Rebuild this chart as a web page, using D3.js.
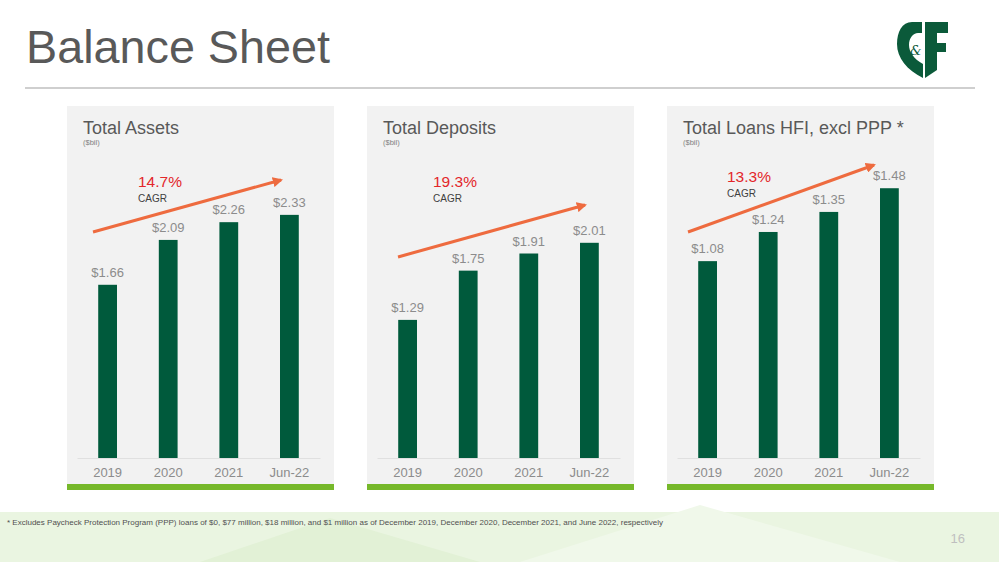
<!DOCTYPE html>
<html>
<head>
<meta charset="utf-8">
<script src="https://cdn.jsdelivr.net/npm/d3@7"></script>
<style>
  body { margin: 0; background: #fff; }
  svg { display: block; font-family: "Liberation Sans", Arial, sans-serif; }
</style>
</head>
<body>
<script>
// Data
const categories = ["2019", "2020", "2021", "Jun-22"];
const assetValues = [1.66, 2.09, 2.26, 2.33];
const depositValues = [1.29, 1.75, 1.91, 2.01];
const loanValues = [1.08, 1.24, 1.35, 1.48];
const panelTitles = ["Total Assets", "Total Deposits", "Total Loans HFI, excl PPP *"];
const cagrLabels = ["14.7%", "19.3%", "13.3%"];
const footnote = "* Excludes Paycheck Protection Program (PPP) loans of $0, $77 million, $18 million, and $1 million as of December 2019, December 2020, December 2021, and June 2022, respectively";

// Create SVG
const width = 999, height = 562;
const svg = d3.select('body')
    .append('svg')
    .attr('width', width)
    .attr('height', height);

// Footer band
svg.append("rect")
    .attr("x", 0).attr("y", 512)
    .attr("width", width).attr("height", 50)
    .attr("fill", "#eaf5e1");
svg.append("path")
    .attr("d", "M200,562 L330,518 L480,562 Z")
    .attr("fill", "#e2f1d6");
svg.append("path")
    .attr("d", "M520,562 L700,505 L900,562 Z")
    .attr("fill", "#f0f8ea");

// Title + rule
svg.append("text")
    .attr("x", 26).attr("y", 63)
    .attr("font-size", 46)
    .attr("textLength", 304)
    .attr("lengthAdjust", "spacingAndGlyphs")
    .attr("fill", "#595959")
    .text("Balance Sheet");
svg.append("line")
    .attr("x1", 25).attr("x2", 975)
    .attr("y1", 88).attr("y2", 88)
    .attr("stroke", "#bfbfbf")
    .attr("stroke-width", 1.5);

// Logo (C&F shield)
const logo = svg.append("g").attr("fill", "#0b5a3a");
logo.append("path")
    .attr("d", "M922,22 L912,22 C902,22 897,32 897,44 C897,58 907,70 923,78 L923,64 C914,59 909,52 909,45 C909,38 913,33 918,33 L922,33 Z");
logo.append("path")
    .attr("d", "M925,22 L948,22 L948,33 L937,33 L937,43 L946,43 L946,52 L937,52 L937,70 L925,78 Z");
logo.append("text")
    .attr("x", 910).attr("y", 55)
    .attr("font-size", 13)
    .attr("font-family", "DejaVu Serif, serif")
    .attr("font-style", "italic")
    .text("&");

// Panels
const panels = [
    { x: 67, values: assetValues, yMax: 2.76 },
    { x: 367, values: depositValues, yMax: 2.69 },
    { x: 667, values: loanValues, yMax: 1.58 }
];
const cagrArrows = [
    { x1: 93, y1: 232, x2: 281, y2: 180, tx: 138, ty: 187 },
    { x1: 398, y1: 257, x2: 585, y2: 205, tx: 433, ty: 187 },
    { x1: 688, y1: 232, x2: 874, y2: 165, tx: 727, ty: 182 }
];

const defs = svg.append("defs");
defs.append("marker")
    .attr("id", "arrow")
    .attr("viewBox", "0 0 10 10")
    .attr("refX", 8).attr("refY", 5)
    .attr("markerWidth", 3.4).attr("markerHeight", 3.4)
    .attr("orient", "auto")
    .append("path")
    .attr("d", "M0,0 L10,5 L0,10 Z")
    .attr("fill", "#ee6b3f");

const panelW = 267, panelTop = 106, baseline = 458;

panels.forEach((p, i) => {
    const g = svg.append("g").attr("transform", `translate(${p.x},0)`);

    g.append("rect")
        .attr("x", 0).attr("y", panelTop)
        .attr("width", panelW).attr("height", 378)
        .attr("fill", "#f2f2f2");
    g.append("rect")
        .attr("x", 0).attr("y", 484)
        .attr("width", panelW).attr("height", 6)
        .attr("fill", "#76b82a");

    g.append("text")
        .attr("x", 16).attr("y", 134)
        .attr("font-size", 18)
        .attr("fill", "#595959")
        .text(panelTitles[i]);
    g.append("text")
        .attr("x", 16).attr("y", 145)
        .attr("font-size", 7.5)
        .attr("fill", "#808080")
        .text("($bil)");

    const x = d3.scaleBand()
        .domain(categories)
        .range([10, 253])
        .paddingInner(0.69)
        .paddingOuter(0.35);
    const y = d3.scaleLinear()
        .domain([0, p.yMax])
        .range([baseline, baseline - 288]);

    // Axis
    const axis = g.append("g")
        .attr("transform", `translate(0,${baseline})`)
        .call(d3.axisBottom(x).tickSize(0).tickPadding(10));
    axis.select(".domain").attr("stroke", "#e0e0e0");
    axis.selectAll("text")
        .attr("font-size", 13)
        .attr("font-family", "Liberation Sans, Arial, sans-serif")
        .attr("fill", "#8c8c8c");

    // Bars
    g.selectAll("rect.bar")
        .data(p.values)
        .join("rect")
        .attr("class", "bar")
        .attr("x", (d, j) => x(categories[j]))
        .attr("width", x.bandwidth())
        .attr("y", d => y(d))
        .attr("height", d => baseline - y(d))
        .attr("fill", "#005a3c");

    // Value labels
    g.selectAll("text.val")
        .data(p.values)
        .join("text")
        .attr("class", "val")
        .attr("x", (d, j) => x(categories[j]) + x.bandwidth() / 2)
        .attr("y", d => y(d) - 8)
        .attr("text-anchor", "middle")
        .attr("font-size", 13)
        .attr("fill", "#8c8c8c")
        .text(d => `$${d.toFixed(2)}`);

    // CAGR arrow
    const a = cagrArrows[i];
    svg.append("line")
        .attr("x1", a.x1).attr("y1", a.y1)
        .attr("x2", a.x2).attr("y2", a.y2)
        .attr("stroke", "#ee6b3f")
        .attr("stroke-width", 3)
        .attr("marker-end", "url(#arrow)");
    svg.append("text")
        .attr("x", a.tx).attr("y", a.ty)
        .attr("font-size", 15.5)
        .attr("fill", "#e3262a")
        .text(cagrLabels[i]);
    svg.append("text")
        .attr("x", a.tx).attr("y", a.ty + 15)
        .attr("font-size", 10)
        .attr("fill", "#404040")
        .text("CAGR");
});

// Footnote & page number
svg.append("text")
    .attr("x", 7).attr("y", 525)
    .attr("font-size", 7.5)
    .attr("textLength", 656)
    .attr("lengthAdjust", "spacingAndGlyphs")
    .attr("fill", "#505050")
    .text(footnote);
svg.append("text")
    .attr("x", 965).attr("y", 543)
    .attr("text-anchor", "end")
    .attr("font-size", 13)
    .attr("fill", "#bfbfbf")
    .text("16");
</script>
</body>
</html>
